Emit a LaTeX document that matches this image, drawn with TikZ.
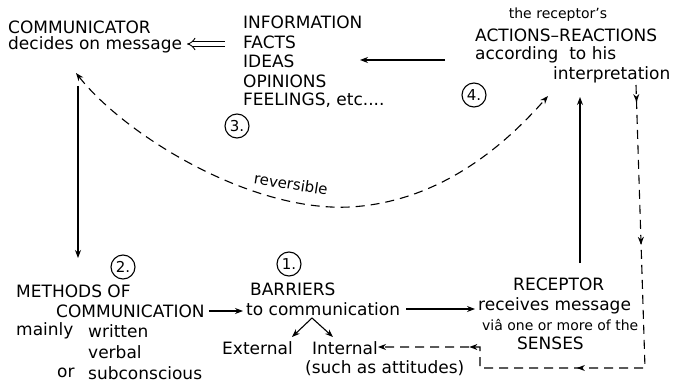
\documentclass[tikz,border=0pt]{standalone}
\usepackage{fontspec}
\setmainfont{DejaVu Sans}
\usetikzlibrary{arrows.meta,decorations.markings}
\begin{document}
\begin{tikzpicture}[x=1pt,y=-1pt,
  lbl/.style={inner sep=0pt,anchor=west,font=\fontsize{17}{20}\selectfont},
  sml/.style={inner sep=0pt,anchor=west,font=\fontsize{14}{16}\selectfont},
  num/.style={draw,circle,line width=1.1pt,minimum size=24pt,inner sep=0pt,font=\fontsize{15}{15}\selectfont},
  ln/.style={line width=1.1pt},
  tip/.style={-{Stealth[length=8pt,width=6pt]}},
  arr/.style={ln,tip},
  dsh/.style={ln,dash pattern=on 9pt off 6pt},
]
\useasboundingbox (0,0) rectangle (686,385);
% top left
\node[lbl] (comm) at (8,27) {COMMUNICATOR};
\node[lbl] (decides) at (8,45) {decides on message};
\node[lbl] (info) at (243,22) {INFORMATION};
\node[lbl] (facts) at (243,42) {FACTS};
\node[lbl] (ideas) at (243,61) {IDEAS};
\node[lbl] (opin) at (243,81) {OPINIONS};
\node[lbl] (feel) at (243,100) {FEELINGS, etc....};
\node[num] (n3) at (237,126) {3.};
% top right
\node[sml,anchor=center] (recs) at (558,15) {the receptor's};
\node[lbl] (actions) at (475,35) {ACTIONS–REACTIONS};
\node[lbl] (accord) at (475,55) {according\ \ to his};
\node[lbl] (interp) at (553,75) {interpretation};
\node[num] (n4) at (474,95) {4.};
% bottom left
\node[num] (n2) at (123,267) {2.};
\node[lbl] (meth) at (16,291) {METHODS OF};
\node[lbl] (commn) at (56,311) {COMMUNICATION};
\node[lbl] (mainly) at (16,331) {mainly};
\node[lbl] (written) at (88,331) {written};
\node[lbl] (verbal) at (88,352) {verbal};
\node[lbl] (or) at (57,373) {or};
\node[lbl] (subc) at (88,373) {subconscious};
% middle
\node[num] (n1) at (289,264) {1.};
\node[lbl] (barr) at (250,289) {BARRIERS};
\node[lbl] (tocomm) at (246,309) {to communication};
\node[lbl] (ext) at (222,348) {External};
\node[lbl] (int) at (312,348) {Internal};
\node[lbl] (such) at (305,368) {(such as attitudes)};
% receptor
\node[lbl] (recep) at (513,284) {RECEPTOR};
\node[lbl] (recv) at (478,306) {receives message};
\node[sml] (via) at (482,325) {viâ one or more of the};
\node[lbl] (senses) at (517,343) {SENSES};
% coordinates
\coordinate (dblA) at (225,44);
\coordinate (dblB) at (187,44);
\coordinate (iA) at (445,60);
\coordinate (iB) at (360,60);
\coordinate (cl) at (76,73);
\coordinate (cr) at (548,96);
\coordinate (vA) at (78,86);
\coordinate (vB) at (78,258);
\coordinate (rA) at (580,263);
\coordinate (rB) at (580,97);
\coordinate (apex) at (312,318);
\coordinate (bl) at (292,337);
\coordinate (br) at (333,337);
\coordinate (dv1) at (636,85);
\coordinate (dv2) at (645,368);
\coordinate (dh1) at (480,368);
\coordinate (dh2) at (480,347);
\coordinate (dend) at (378,347);
% connectors
\draw[line width=0.9pt,double,double distance=3.5pt,-{Implies}] (dblA) -- (dblB);
\draw[arr] (iA) -- (iB);
\draw[dsh,{Stealth[length=8pt,width=6pt]}-{Stealth[length=8pt,width=6pt]}] (cl) .. controls (125,135) and (250,212) .. (350,207) .. controls (440,202) and (505,145) .. (cr);
\node[font=\fontsize{15}{16}\selectfont,rotate=-9,inner sep=0pt] (rev) at (291,184) {reversible};
\draw[arr] (vA) -- (vB);
\draw[arr] (rA) -- (rB);
\draw[arr] (commn.east) ++(4,0) coordinate (cA) -- (243,311);
\draw[arr] (tocomm.east) ++(6,0) coordinate (tA) -- (475,309);
\draw[arr] (apex) -- (bl);
\draw[arr] (apex) -- (br);
\draw[dsh,tip,postaction={decorate},decoration={markings,
  mark=at position 0.03 with {\arrow{Stealth[length=8pt,width=6pt]}},
  mark=at position 0.28 with {\arrow{Stealth[length=8pt,width=6pt]}},
  mark=at position 0.615 with {\arrow{Stealth[length=8pt,width=6pt]}},
  mark=at position 0.84 with {\arrow{Stealth[length=8pt,width=6pt]}}}]
  (dv1) -- (dv2) -- (dh1) -- (dh2) -- (dend);
\end{tikzpicture}
\end{document}
